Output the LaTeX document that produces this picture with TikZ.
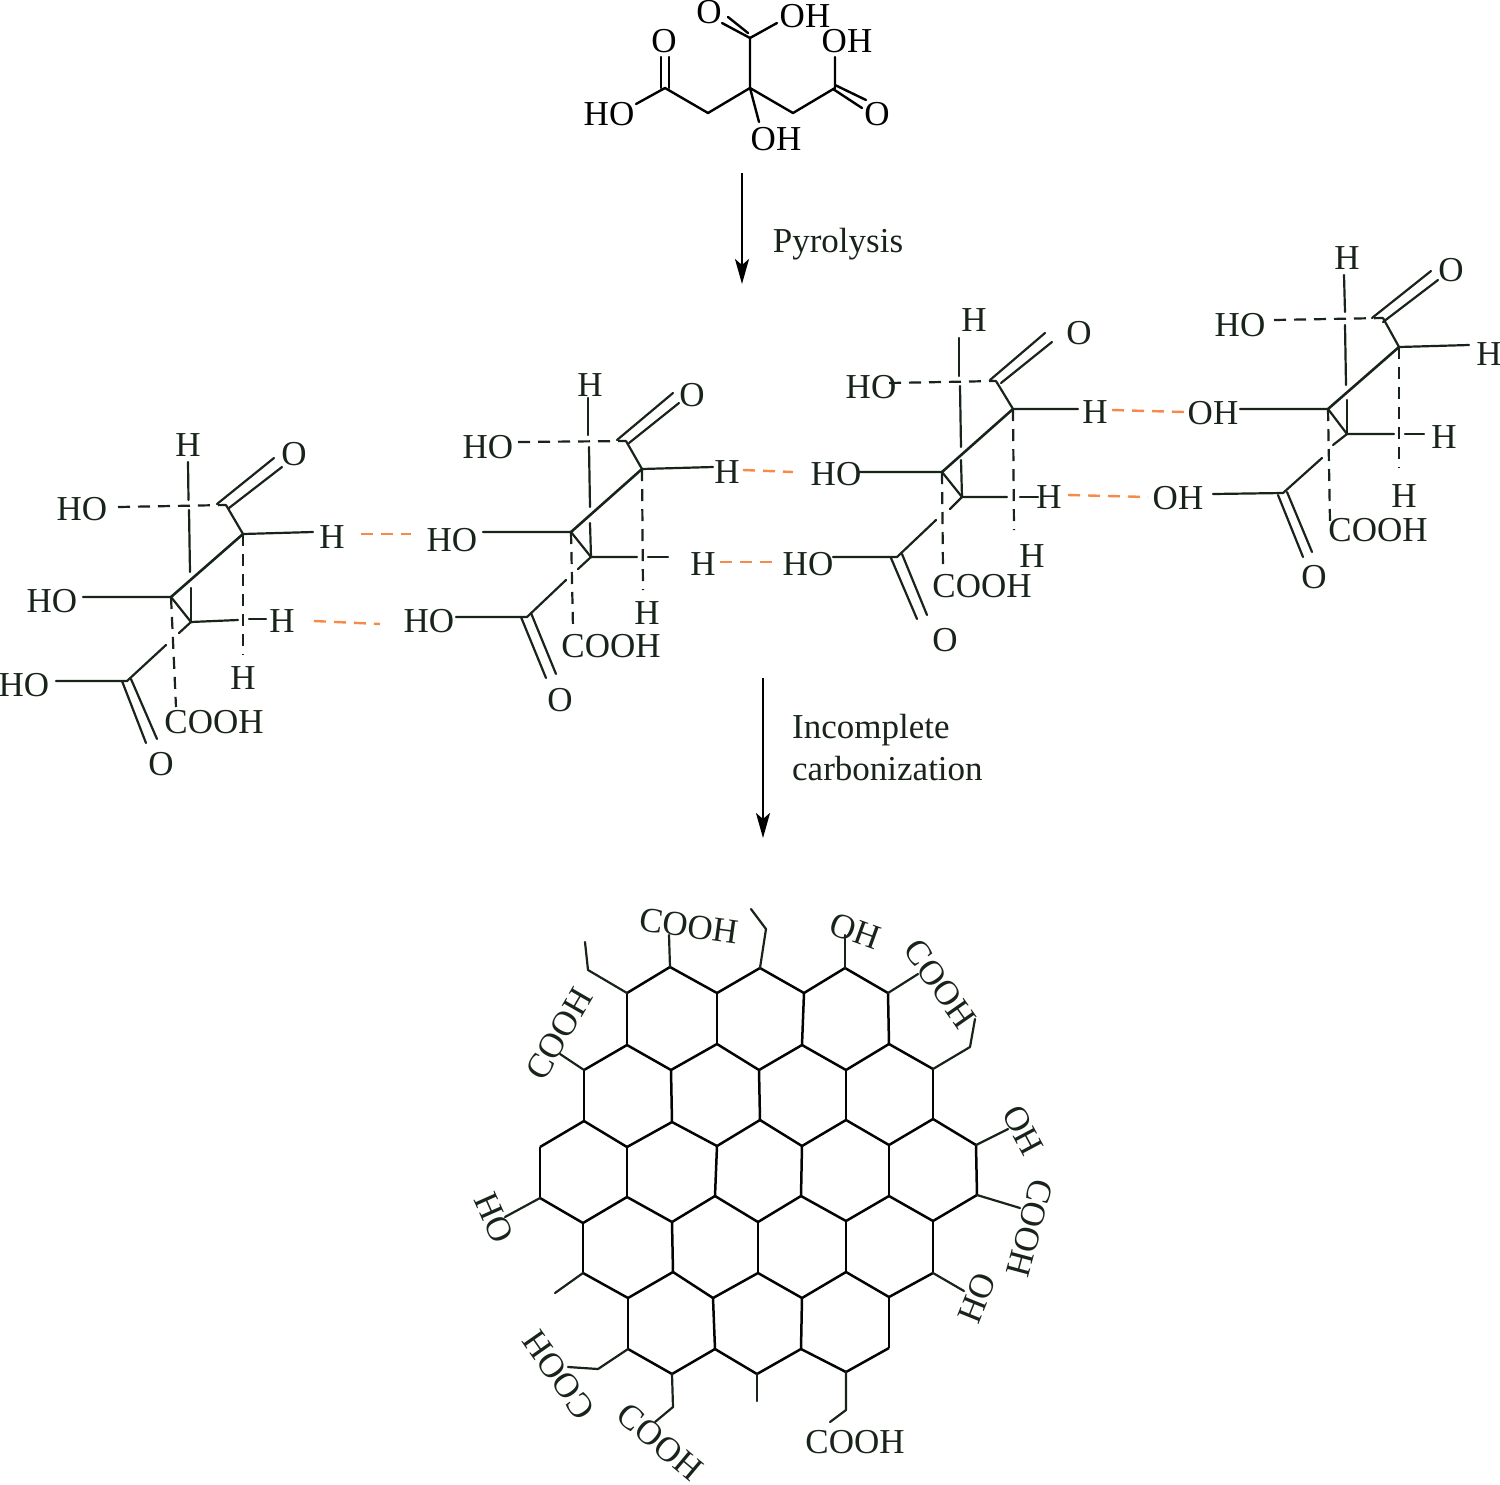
\documentclass[tikz,border=0pt]{standalone}
\usepackage{fontspec}
\setmainfont{Liberation Serif}
\usetikzlibrary{arrows.meta}
\definecolor{inkgreen}{HTML}{18241A}
\definecolor{hbond}{HTML}{F58A4B}
\tikzset{
  atom/.style={inner sep=0pt,text=inkgreen,font=\fontsize{35}{41}\selectfont},
  atomk/.style={atom,text=black},
  bond/.style={line width=2.2pt,draw=inkgreen,line cap=round,line join=round},
  bondk/.style={line width=2.4pt,draw=black,line cap=round,line join=round},
  ring/.style={line width=2.5pt,draw=black!90!inkgreen},
  dbond/.style={bond,dash pattern=on 12pt off 8pt,line cap=butt},
  hlink/.style={line width=2.4pt,draw=hbond,dash pattern=on 12pt off 8pt},
  react/.style={line width=2.4pt,-{Stealth[length=25pt,width=14pt,inset=6pt]}}
}

\begin{document}
\begin{tikzpicture}[x=1pt,y=-1pt]
    \useasboundingbox (0,0) rectangle (1500,1484);

    %citric acid
    \foreach \n/\x/\y in {cc0/750/88,ct0/750/38,cl0/708/113,cm0/665/88,cr0/793/113,cs0/835/88,
        a0/748/33,a1/728/17,a2/748/38,a3/722/23,a4/777/23,b0/661/88,b1/661/57,b2/669/88,b3/669/57,
        b4/636/104,e0/835/57,e1/835/85,e2/866/100,e3/833/89,e4/862/108,u0/759/122}
        \coordinate (\n) at (\x,\y);
    \draw[bondk] (u0) -- (cc0) -- (ct0) -- (a4);
    \draw[bondk] (ct0) -- (a3);
    \draw[bondk] (a0) -- (a1);
    \draw[bondk] (cc0) -- (cl0) -- (cm0) -- (b4);
    \draw[bondk] (cc0) -- (cr0) -- (cs0) -- (e0);
    \draw[bondk] (b0) -- (b1);
    \draw[bondk] (b2) -- (b3);
    \draw[bondk] (e1) -- (e2);
    \draw[bondk] (e3) -- (e4);
    \foreach \n/\x/\y/\t in {oa/709/12/O,ob/805/16/OH,oc/664/41/O,od/609/114/HO,
        oe/847/41/OH,of/877/114/O,og/776/139/OH}
        \node[atomk] (\n) at (\x,\y) {\t};

    %first arrow
    \coordinate (ara) at (742,173);
    \coordinate (arb) at (742,284);
    \draw[react] (ara) -- (arb);
    \node[atom,anchor=base] (pyro) at (838,252) {Pyrolysis};

    %four chains
    \foreach \n/\x/\y in {ca/226/505,cb/243/534,cc/171/597,cd/191/622,ce/127/681,t1/188/462,u1/188.5/500,u2/189/510,t2/190/572,t3/191/588,
        d1/118/507,o1/217/504,o2/274/458,o3/229/508,o4/282/467,hb/313/532,hc/83/597,f1/238/620,f2/249/619,f3/266/619,
        g1/243/655,g2/176/707,k1/179/633,k2/166/645,he/56/681,p1/122/681,p2/146/743,p3/131/679,p4/157/739}
        \coordinate (\n-A) at (\x,\y);
    \foreach \n/\x/\y in {ca/626/441,cb/642/469,cc/571/532,cd/591/557,ce/527/617,t1/588/398,u1/588/435,u2/589/447,t2/590/507,t3/590/523,
        d1/518/442,o1/617/440,o2/673/393,o3/629/443,o4/679/403,hb/713/467,hc/483/532,f1/637/557,f2/648/557,f3/668/557,
        g1/643/590,g2/573/628,k1/578/569,k2/566/580,he/456/617,p1/521/617,p2/546/678,p3/531/613,p4/556/674}
        \coordinate (\n-B) at (\x,\y);
    \foreach \n/\x/\y in {ca/996/381,cb/1013/409,cc/942/472,cd/962/497,ce/897/557,t1/959/338,u1/959/376,u2/960/386,t2/961/447,t3/961/460,
        d1/889/383,o1/990/380,o2/1045/333,o3/1001/383,o4/1052/342,hb/1078/409,hc/858/472,f1/1007/497,f2/1020/497,f3/1038/497,
        g1/1014/530,g2/943/570,k1/950/509,k2/936/520,he/833/557,p1/891/558,p2/917/619,p3/902/554,p4/927/615}
        \coordinate (\n-C) at (\x,\y);
    \foreach \n/\x/\y in {ca/1383/318,cb/1399/347,cc/1328/409,cd/1347/434,ce/1283/493,t1/1344/275,u1/1345/312,u2/1345/325,t2/1346/385,t3/1347/400,
        d1/1274/320,o1/1372/318,o2/1431/271,o3/1383/322,o4/1438/280,hb/1469/345,hc/1240/409,f1/1394/434,f2/1405/434,f3/1424/434,
        g1/1399/468,g2/1330/522,k1/1333/445,k2/1322/458,he/1213/494,p1/1278/495,p2/1303/557,p3/1287/492,p4/1312/552}
        \coordinate (\n-D) at (\x,\y);

    \foreach \m in {A,B,C,D} {
        \draw[bond] (t1-\m) -- (u1-\m);
        \draw[bond] (u2-\m) -- (t2-\m);
        \draw[bond] (t3-\m) -- (cd-\m);
        \draw[dbond] (d1-\m) -- (ca-\m);
        \draw[bond] (o1-\m) -- (o2-\m);
        \draw[bond] (o3-\m) -- (o4-\m);
        \draw[bond] (ca-\m) -- (cb-\m) -- (hb-\m);
        \draw[bond,line width=2.6pt] (cb-\m) -- (cc-\m);
        \draw[bond] (hc-\m) -- (cc-\m) -- (cd-\m) -- (f1-\m);
        \draw[bond] (f2-\m) -- (f3-\m);
        \draw[dbond] (cb-\m) -- (g1-\m);
        \draw[dbond] (cc-\m) -- (g2-\m);
        \draw[bond] (cd-\m) -- (k1-\m);
        \draw[bond] (k2-\m) -- (ce-\m) -- (he-\m);
        \draw[bond] (p1-\m) -- (p2-\m);
        \draw[bond] (p3-\m) -- (p4-\m);
    }

    %labels of the chains
    \foreach \n/\x/\y/\t in {la/188/445/H,lb/294/454/O,lc/82/509/HO,ld/332/537/H,le/52/601/HO,
        lf/282/621/H,lg/243/678/H,lh/214/722/COOH,li/24/685/HO,lj/161/764/O,
        ma/590/385/H,mb/692/395/O,mc/488/447/HO,md/727/472/H,me/452/540/HO,
        mf/703/564/H,mg/647/613/H,mh/611/646/COOH,mi/429/621/HO,mj/560/700/O,
        na/974/320/H,nb/1079/333/O,nc/871/387/HO,nd/1095/412/H,ne/836/474/HO,
        nf/1049/497/H,ng/1032/556/H,nh/982/586/COOH,ni/808/564/HO,nj/945/640/O,
        pa/1347/258/H,pb/1451/270/O,pc/1240/325/HO,pd/1489/354/H,pe/1213/413/OH,
        pf/1444/437/H,pg/1404/496/H,ph/1378/530/COOH,pi/1178/498/OH,pj/1314/577/O}
        \node[atom] (\n) at (\x,\y) {\t};

    %hydrogen bonds
    \foreach \n/\x/\y in {q1/361/534,q2/411/534,q3/314/621,q4/380/624,q5/743/470,q6/793/472,
        q7/720/562,q8/780/562,q9/1112/410,q10/1184/412,q11/1068/495,q12/1148/497}
        \coordinate (\n) at (\x,\y);
    \draw[hlink] (q1) -- (q2);
    \draw[hlink] (q3) -- (q4);
    \draw[hlink] (q5) -- (q6);
    \draw[hlink] (q7) -- (q8);
    \draw[hlink] (q9) -- (q10);
    \draw[hlink] (q11) -- (q12);

    %second arrow
    \coordinate (arc) at (763,678);
    \coordinate (ard) at (763,838);
    \draw[react] (arc) -- (ard);
    \node[atom,anchor=base west] (inco) at (792,738) {Incomplete};
    \node[atom,anchor=base west] (carb) at (792,780) {carbonization};

    %carbon sheet
    \foreach \n/\x/\y in {a1/670/967,a2/760/968,a3/845/968,
        b1/627/993,b2/717/993,b3/804/993,b4/888/993,
        c1/627/1045,c2/717/1044,c3/802/1045,c4/889/1044,
        d1/584/1070,d2/671/1070,d3/759/1070,d4/846/1070,d5/933/1069,
        e1/584/1121,e2/672/1122,e3/760/1120,e4/846/1120,e5/933/1119,
        f1/540/1147,f2/627/1147,f3/717/1146,f4/802/1146,f5/889/1145,f6/976/1145,
        g1/540/1198,g2/627/1197,g3/715/1196,g4/801/1196,g5/889/1196,g6/977/1195,
        h1/583/1223,h2/672/1222,h3/758/1222,h4/846/1221,h5/933/1221,
        i1/583/1273,i2/673/1272,i3/758/1273,i4/846/1272,i5/933/1273,
        j1/628/1298,j2/713/1298,j3/802/1298,j4/889/1297,
        k1/628/1349,k2/715/1349,k3/801/1349,k4/889/1348,
        l1/672/1374,l2/757/1374,l3/846/1372}
        \coordinate (\n) at (\x,\y);

    \draw[ring] (b1) -- (a1) -- (b2) -- (a2) -- (b3) -- (a3) -- (b4);
    \draw[ring] (d1) -- (c1) -- (d2) -- (c2) -- (d3) -- (c3) -- (d4) -- (c4) -- (d5);
    \draw[ring] (f1) -- (e1) -- (f2) -- (e2) -- (f3) -- (e3) -- (f4) -- (e4) -- (f5) -- (e5) -- (f6);
    \draw[ring] (g1) -- (h1) -- (g2) -- (h2) -- (g3) -- (h3) -- (g4) -- (h4) -- (g5) -- (h5) -- (g6);
    \draw[ring] (i1) -- (j1) -- (i2) -- (j2) -- (i3) -- (j3) -- (i4) -- (j4) -- (i5);
    \draw[ring] (k1) -- (l1) -- (k2) -- (l2) -- (k3) -- (l3) -- (k4);
    \foreach \i in {1,...,4} \draw[ring] (b\i) -- (c\i);
    \foreach \i in {1,...,5} \draw[ring] (d\i) -- (e\i);
    \foreach \i in {1,...,6} \draw[ring] (f\i) -- (g\i);
    \foreach \i in {1,...,5} \draw[ring] (h\i) -- (i\i);
    \foreach \i in {1,...,4} \draw[ring] (j\i) -- (k\i);

    %side groups
    \foreach \n/\x/\y in {s1/588/970,s2/585/942,s3/669/935,s4/766/929,s5/751/909,s6/845/935,s7/918/974,
        s8/970/1047,s9/975/1019,s10/1008/1129,s11/1020/1208,s12/964/1291,s13/846/1410,s14/830/1422,
        s15/757/1401,s16/673/1407,s17/655/1422,s18/598/1369,s19/568/1367,s20/555/1293,s21/505/1217,s22/560/1054}
        \coordinate (\n) at (\x,\y);
    \draw[bond] (b1) -- (s1) -- (s2);
    \draw[bond] (a1) -- (s3);
    \draw[bond] (a2) -- (s4) -- (s5);
    \draw[bond] (a3) -- (s6);
    \draw[bond] (b4) -- (s7);
    \draw[bond] (d5) -- (s8) -- (s9);
    \draw[bond] (f6) -- (s10);
    \draw[bond] (g6) -- (s11);
    \draw[bond] (i5) -- (s12);
    \draw[bond] (l3) -- (s13) -- (s14);
    \draw[bond] (l2) -- (s15);
    \draw[bond] (l1) -- (s16) -- (s17);
    \draw[bond] (k1) -- (s18) -- (s19);
    \draw[bond] (i1) -- (s20);
    \draw[bond] (g1) -- (s21);
    \draw[bond] (d1) -- (s22);

    \foreach \n/\x/\y/\r/\t in {ra/689/926/-8/COOH,rb/855/931/-20/OH,rc/940/984/-55/COOH,
        rd/1023/1130/-62/OH,re/1030/1228/-105/COOH,rf/977/1298/68/HO,rg/855/1442/0/COOH,
        rh/660/1442/-40/COOH,ri/559/1375/125/COOH,rj/494/1218/-66/HO,rk/559/1034/60/COOH}
        \node[atom,rotate=\r] (\n) at (\x,\y) {\t};

\end{tikzpicture}
\end{document}
